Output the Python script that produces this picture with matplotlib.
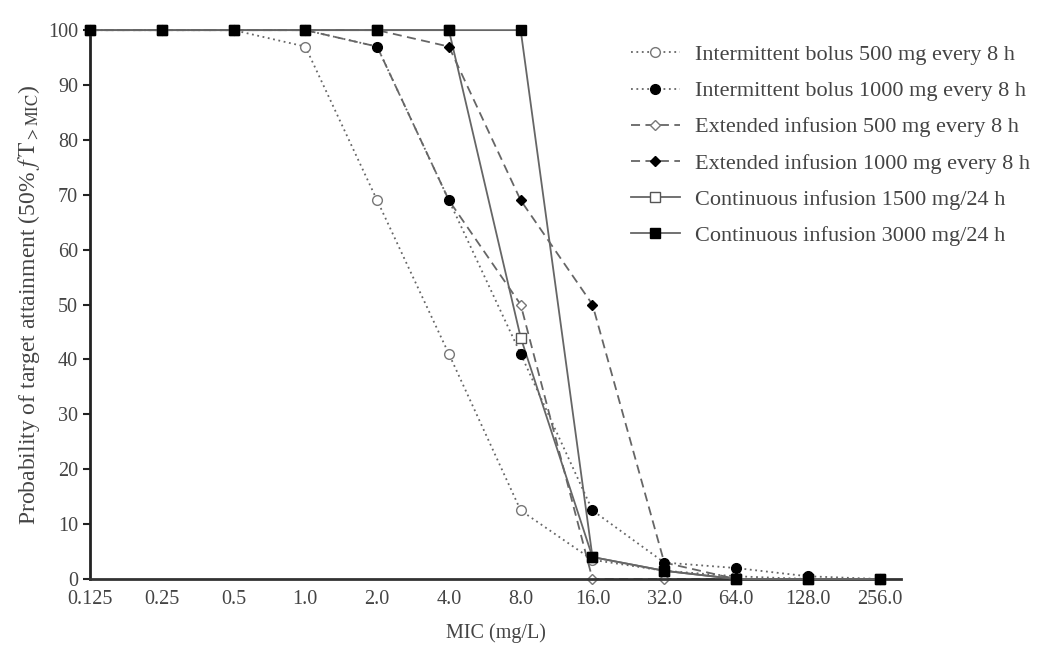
import matplotlib
matplotlib.use('Agg')
import matplotlib.pyplot as plt

plt.rcParams['font.family'] = ['Liberation Serif', 'DejaVu Serif']
plt.rcParams['mathtext.fontset'] = 'stix'

# MIC categories (mg/L)
mic_labels = ['0.125', '0.25', '0.5', '1.0', '2.0', '4.0', '8.0', '16.0', '32.0', '64.0', '128.0', '256.0']

# probability of target attainment (%)
ib_500 = [100, 100, 100, 97, 69, 41, 12.5, 3.5, 1.5, 0.5, 0, 0]
ib_1000 = [100, 100, 100, 100, 97, 69, 41, 12.5, 3, 2, 0.5, 0]
ei_500 = [100, 100, 100, 100, 97, 69, 50, 0, 0, 0, 0, 0]
ei_1000 = [100, 100, 100, 100, 100, 97, 69, 50, 3, 0, 0, 0]
ci_1500 = [100, 100, 100, 100, 100, 100, 44, 4, 1.5, 0, 0, 0]
ci_3000 = [100, 100, 100, 100, 100, 100, 100, 4, 1.5, 0, 0, 0]

series_names = ['Intermittent bolus 500 mg every 8 h',
                'Intermittent bolus 1000 mg every 8 h',
                'Extended infusion 500 mg every 8 h',
                'Extended infusion 1000 mg every 8 h',
                'Continuous infusion 1500 mg/24 h',
                'Continuous infusion 3000 mg/24 h']

x = list(range(len(mic_labels)))

fig = plt.figure(figsize=(10.4, 6.55), dpi=100)
ax = fig.add_axes([0.0865, 0.116, 0.78, 0.838])

line_col = '#666666'
# open markers sit under the filled ones
styles = [
    dict(ls=(0, (1, 2)), marker='o', mfc='white', mec='#777777', ms=7, zorder=3),
    dict(ls=(0, (1, 2)), marker='o', mfc='black', mec='black', ms=7, zorder=5),
    dict(ls=(0, (5, 3)), marker='D', mfc='white', mec='#777777', ms=5, zorder=2),
    dict(ls=(0, (5, 3)), marker='D', mfc='black', mec='black', ms=5, zorder=5),
    dict(ls='-', marker='s', mfc='white', mec='#555555', ms=7, zorder=3),
    dict(ls='-', marker='s', mfc='black', mec='black', ms=7, zorder=6),
]
data = [ib_500, ib_1000, ei_500, ei_1000, ci_1500, ci_3000]

for vals, name, st in zip(data, series_names, styles):
    ax.plot(x, vals, color=line_col, lw=1.3, label=name, clip_on=False, **st)

ax.set_xlim(0, 11.3)
ax.set_ylim(0, 100)
ax.set_xticks(x)
ax.set_xticklabels(mic_labels)
ax.set_yticks(range(0, 101, 10))
ax.tick_params(axis='x', length=0, pad=8, labelsize=14.5, colors='#444444')
ax.tick_params(axis='y', length=5, width=1.5, direction='out', labelsize=14.5, colors='#444444')
ax.tick_params(axis='y', color='#222222')

ax.spines['top'].set_visible(False)
ax.spines['right'].set_visible(False)
ax.spines['left'].set_linewidth(2)
ax.spines['bottom'].set_linewidth(2)
ax.spines['left'].set_color('#222222')
ax.spines['bottom'].set_color('#333333')

ax.set_xlabel('MIC (mg/L)', fontsize=14.5, color='#444444', labelpad=10)
ax.set_ylabel(r'Probability of target attainment (50% $f\,\mathrm{T}_{>\mathrm{MIC}}$)',
              fontsize=17, color='#444444', labelpad=4)

leg = ax.legend(loc='upper left', bbox_to_anchor=(0.642, 1.01), frameon=False,
                fontsize=16, handlelength=2.2, handletextpad=0.7, labelspacing=0.7,
                labelcolor='#444444')

fig.savefig('out.png', dpi=100)
